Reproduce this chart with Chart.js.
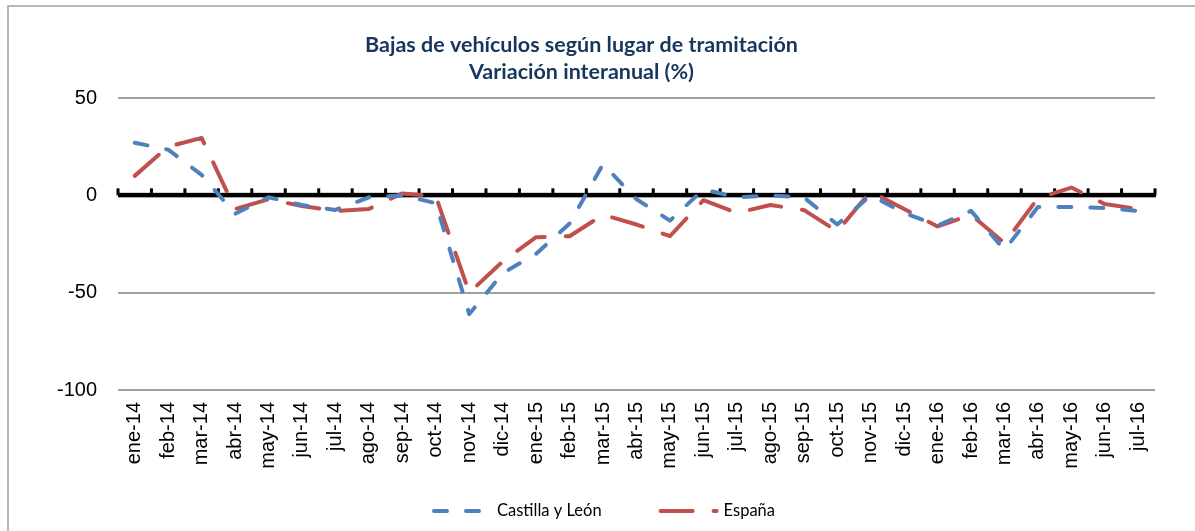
<!DOCTYPE html>
<html>
<head>
<meta charset="utf-8">
<script src="https://cdn.jsdelivr.net/npm/chart.js@4"></script>
<style>
  html, body { margin: 0; padding: 0; background: #fff; }
  #wrap { width: 1195px; height: 531px; position: relative; }
</style>
</head>
<body>
<div id="wrap"><canvas id="c" width="1195" height="531"></canvas></div>
<script>
const categories = ["ene-14","feb-14","mar-14","abr-14","may-14","jun-14","jul-14","ago-14","sep-14","oct-14","nov-14","dic-14",
  "ene-15","feb-15","mar-15","abr-15","may-15","jun-15","jul-15","ago-15","sep-15","oct-15","nov-15","dic-15",
  "ene-16","feb-16","mar-16","abr-16","may-16","jun-16","jul-16"];
const castillaLeon = [27, 23.5, 10.5, -9.5, -1, -5, -7.5, -1, 0, -4, -61, -40, -30, -14.5, 16, -2, -13, 3, -1, 0, -1, -15, 0, -9, -15.5, -8, -28, -6, -6, -6.5, -8];
const espana = [10, 25, 29.5, -7, -2, -5.5, -8, -7, 1, -0.5, -50, -34, -21.5, -21, -10, -15, -21, -2.5, -9, -5, -7.5, -18.5, 2, -7, -16, -10, -24.5, -1.5, 4, -4.5, -7];
const yTicks = [50, 0, -50, -100];
const titleLines = ["Bajas de vehículos según lugar de tramitación", "Variación interanual (%)"];
const seriesNames = ["Castilla y León", "España"];

const TITLE_FONT = "Lato, 'Open Sans', sans-serif";
const AXIS_FONT = "'Liberation Sans', Arial, sans-serif";
const LEGEND_FONT = "Lato, 'Open Sans', sans-serif";

const frame = {
  id: 'frame',
  beforeDraw(chart) {
    const ctx = chart.ctx;
    ctx.save();
    ctx.fillStyle = '#fff';
    ctx.fillRect(0, 0, chart.width, chart.height);
    ctx.strokeStyle = '#a0a0a0';
    ctx.lineWidth = 1.5;
    ctx.strokeRect(8, 6, chart.width + 20, chart.height + 20);
    ctx.restore();
  }
};

const zeroAxis = {
  id: 'zeroAxis',
  beforeDatasetsDraw(chart) {
    const {ctx, chartArea} = chart;
    const y0 = chart.scales.y.getPixelForValue(0);
    const n = categories.length;
    const w = (chartArea.right - chartArea.left) / n;
    ctx.save();
    ctx.fillStyle = '#000';
    ctx.fillRect(chartArea.left, y0 - 2.5, chartArea.right - chartArea.left + 1, 4.5);
    for (let k = 0; k <= n; k++) {
      const x = chartArea.left + k * w;
      ctx.fillRect(x - 1.5, y0 - 7, 3, 7);
    }
    ctx.restore();
  }
};

const customLegend = {
  id: 'customLegend',
  afterDraw(chart) {
    const ctx = chart.ctx;
    const y = 511;
    const sampleLens = [47, 56];
    let x = 432;
    ctx.save();
    ctx.font = '16.5px ' + LEGEND_FONT;
    ctx.textBaseline = 'middle';
    chart.data.datasets.forEach((ds, i) => {
      ctx.strokeStyle = ds.borderColor;
      ctx.lineWidth = ds.borderWidth;
      ctx.lineCap = 'round';
      ctx.setLineDash(ds.borderDash);
      ctx.beginPath();
      ctx.moveTo(x + 2, y);
      ctx.lineTo(x + 2 + sampleLens[i], y);
      ctx.stroke();
      ctx.setLineDash([]);
      const tx = i === 0 ? x + 65 : x + 65;
      ctx.fillStyle = '#000';
      ctx.fillText(ds.label, tx, y);
      x = tx + ctx.measureText(ds.label).width + 57;
    });
    ctx.restore();
  }
};

new Chart(document.getElementById('c'), {
  type: 'line',
  data: {
    labels: categories,
    datasets: [
      {
        label: seriesNames[0],
        data: castillaLeon,
        borderColor: '#4F81BD',
        backgroundColor: '#4F81BD',
        borderWidth: 4,
        borderDash: [13, 19],
        borderCapStyle: 'round',
        borderJoinStyle: 'round',
        pointRadius: 0,
        tension: 0,
        fill: false
      },
      {
        label: seriesNames[1],
        data: espana,
        borderColor: '#C0504D',
        backgroundColor: '#C0504D',
        borderWidth: 4,
        borderDash: [32, 21],
        borderCapStyle: 'round',
        borderJoinStyle: 'round',
        pointRadius: 0,
        tension: 0,
        fill: false
      }
    ]
  },
  options: {
    responsive: false,
    animation: false,
    devicePixelRatio: 1,
    layout: { padding: { top: 31.5, left: 8, right: 40, bottom: 41 } },
    plugins: {
      title: {
        display: true,
        text: titleLines,
        color: '#17365D',
        font: { family: TITLE_FONT, size: 21.5, weight: 'bold', lineHeight: 1.256 },
        padding: { top: 0, bottom: 12.5 }
      },
      legend: { display: false },
      tooltip: { enabled: false }
    },
    scales: {
      x: {
        offset: true,
        grid: { display: false, drawTicks: false },
        border: { display: false },
        ticks: {
          autoSkip: false,
          maxRotation: 90,
          minRotation: 90,
          color: '#000',
          padding: 12,
          font: { family: AXIS_FONT, size: 20 }
        },
        afterFit(scale) { scale.height = 100; }
      },
      y: {
        min: -100,
        max: 50,
        afterBuildTicks(scale) { scale.ticks = yTicks.map(v => ({ value: v })); },
        grid: {
          drawTicks: false,
          color: (c) => (c.tick && c.tick.value === 0) ? 'rgba(0,0,0,0)' : '#A0A0A0',
          lineWidth: 2
        },
        border: { display: false },
        ticks: {
          color: '#000',
          padding: 21,
          font: { family: AXIS_FONT, size: 20 }
        },
        afterFit(scale) { scale.width = 110; }
      }
    }
  },
  plugins: [frame, zeroAxis, customLegend]
});
</script>
</body>
</html>
